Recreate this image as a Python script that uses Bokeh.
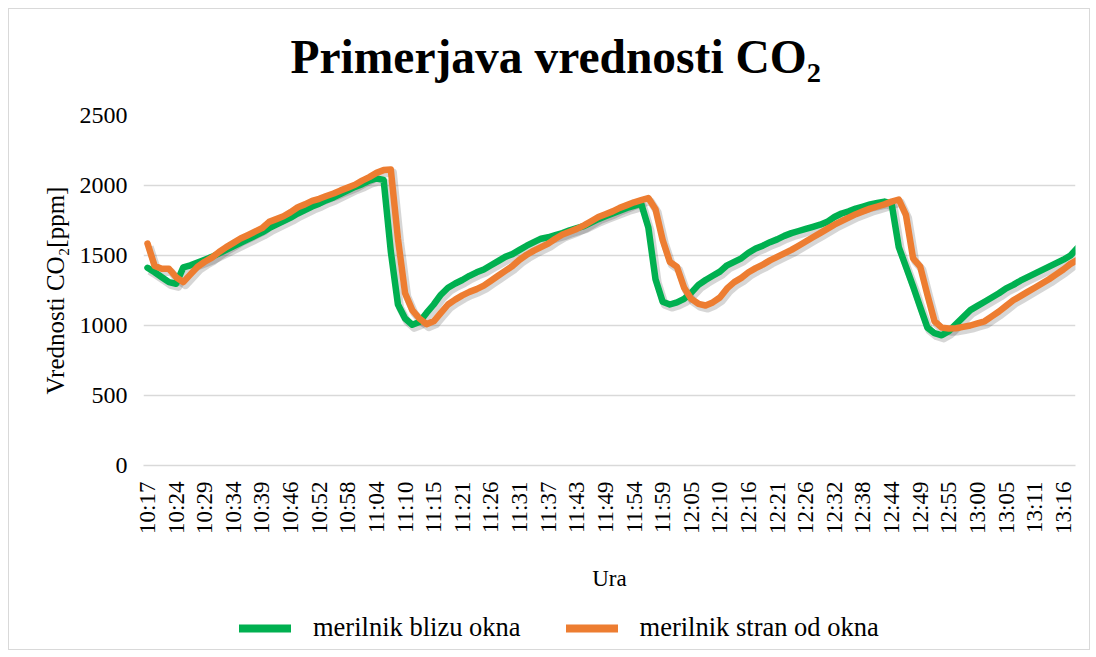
import math
from bokeh.plotting import figure
from bokeh.layouts import column
from bokeh.models import Range1d, FixedTicker, Legend, LegendItem, ColumnDataSource, Label
from bokeh.transform import dodge
from bokeh.embed import file_html
from bokeh.resources import INLINE

# x-axis category labels (one label every 4 samples)
ura_labels = ["10:17", "10:24", "10:29", "10:34", "10:39", "10:46", "10:52", "10:58",
              "11:04", "11:10", "11:15", "11:21", "11:26", "11:31", "11:37", "11:43",
              "11:49", "11:54", "11:59", "12:05", "12:10", "12:16", "12:21", "12:26",
              "12:32", "12:38", "12:44", "12:49", "12:55", "13:00", "13:05", "13:11", "13:16"]
samples_per_label = 4

# merilnik blizu okna (ppm)
blizu = [1412, 1380, 1345, 1310, 1298, 1415, 1430, 1450, 1470, 1490,
         1515, 1540, 1565, 1590, 1615, 1640, 1665, 1695, 1720, 1745,
         1770, 1800, 1825, 1850, 1870, 1895, 1915, 1940, 1965, 1990,
         2010, 2035, 2050, 2040, 1530, 1150, 1050, 1005, 1025, 1090,
         1150, 1220, 1270, 1300, 1325, 1355, 1380, 1400, 1430, 1460,
         1490, 1510, 1540, 1570, 1595, 1620, 1630, 1645, 1660, 1680,
         1695, 1710, 1735, 1760, 1780, 1800, 1820, 1840, 1855, 1870,
         1700, 1330, 1170, 1150, 1165, 1190, 1235, 1290, 1325, 1355,
         1385, 1430, 1455, 1480, 1520, 1550, 1570, 1595, 1615, 1640,
         1660, 1675, 1690, 1705, 1720, 1740, 1775, 1800, 1815, 1835,
         1850, 1865, 1875, 1885, 1870, 1560, 1420, 1280, 1130, 985,
         945, 930, 960, 1010, 1060, 1110, 1140, 1170, 1200, 1230,
         1265, 1290, 1320, 1345, 1370, 1395, 1420, 1445, 1470, 1500,
         1555]

# merilnik stran od okna (ppm)
stran = [1585, 1425, 1405, 1405, 1345, 1310, 1365, 1420, 1455, 1485,
         1525, 1560, 1590, 1621, 1645, 1670, 1695, 1740, 1760, 1780,
         1810, 1845, 1865, 1890, 1905, 1925, 1943, 1965, 1985, 2005,
         2035, 2060, 2090, 2110, 2115, 1620, 1230, 1110, 1050, 1010,
         1030, 1090, 1150, 1185, 1215, 1240, 1260, 1285, 1320, 1355,
         1390, 1425, 1470, 1505, 1535, 1560, 1585, 1620, 1650, 1670,
         1690, 1715, 1745, 1775, 1795, 1815, 1840, 1860, 1880, 1895,
         1910, 1830, 1610, 1455, 1418, 1270, 1190, 1155, 1143, 1165,
         1200, 1265, 1310, 1340, 1380, 1410, 1435, 1465, 1490, 1515,
         1540, 1570, 1600, 1630, 1660, 1690, 1720, 1745, 1770, 1795,
         1815, 1835, 1850, 1865, 1885, 1900, 1790, 1480, 1420, 1220,
         1030, 985, 978, 980, 990, 1000, 1015, 1030, 1065, 1100,
         1140, 1180, 1210, 1240, 1270, 1300, 1330, 1365, 1400, 1440,
         1470]

y_ticks = [0, 500, 1000, 1500, 2000, 2500]
title_text = "Primerjava vrednosti CO₂"

FONT = "Liberation Serif"
GREEN = "#00B050"
ORANGE = "#ED7D31"
GRID = "#d9d9d9"

src = ColumnDataSource(dict(x=list(range(len(blizu))), blizu=blizu, stran=stran))


def bare(fig):
    fig.outline_line_color = None
    fig.grid.visible = False
    fig.background_fill_color = "white"
    fig.border_fill_color = "white"


# ---- title strip ----
t = figure(width=1080, height=94, output_backend="svg", toolbar_location=None,
           x_range=Range1d(143, 1075), y_range=Range1d(103, 9),
           x_axis_location=None, y_axis_location=None,
           min_border_left=0, min_border_right=0, min_border_top=0, min_border_bottom=0)
bare(t)
t.add_layout(Label(x=290, y=56, text=title_text, text_font=FONT, text_font_size="47.5px",
                   text_font_style="bold", text_color="black", text_align="left",
                   text_baseline="alphabetic"))

# ---- main chart ----
p = figure(width=1080, height=498, output_backend="svg", toolbar_location=None,
           x_range=Range1d(-0.56, 129.7), y_range=Range1d(0, 2500),
           min_border_left=134, min_border_right=14, min_border_top=12,
           min_border_bottom=136)
p.outline_line_color = None
p.background_fill_color = "white"
p.border_fill_color = "white"

# shadows
for col in ("blizu", "stran"):
    p.line(x=dodge("x", 0.3, range=p.x_range), y=dodge(col, -22, range=p.y_range), source=src,
           line_color="black", line_alpha=0.16, line_width=8, line_join="round")

g = p.line("x", "blizu", source=src, line_color=GREEN, line_width=6.5,
           line_join="round", line_cap="round")
o = p.line("x", "stran", source=src, line_color=ORANGE, line_width=6.5,
           line_join="round", line_cap="round")

p.xgrid.visible = False
p.ygrid.grid_line_color = GRID
p.ygrid.grid_line_width = 1.5
p.yaxis.ticker = FixedTicker(ticks=y_ticks)

p.yaxis.axis_line_color = None
p.yaxis.major_tick_line_color = None
p.yaxis.minor_tick_line_color = None
p.yaxis.major_label_text_font = FONT
p.yaxis.major_label_text_font_size = "24px"
p.yaxis.major_label_text_color = "black"
p.yaxis.major_label_standoff = 10
p.yaxis.axis_label = "Vrednosti CO₂[ppm]"
p.yaxis.axis_label_text_font = FONT
p.yaxis.axis_label_text_font_size = "25px"
p.yaxis.axis_label_text_font_style = "normal"
p.yaxis.axis_label_text_color = "black"
p.yaxis.axis_label_standoff = 8

tick_pos = [i * samples_per_label for i in range(len(ura_labels))]
p.xaxis.ticker = FixedTicker(ticks=tick_pos)
p.xaxis.major_label_overrides = {tp: lab for tp, lab in zip(tick_pos, ura_labels)}
p.xaxis.major_label_orientation = math.pi / 2
p.xaxis.axis_line_color = GRID
p.xaxis.axis_line_width = 1.5
p.xaxis.major_tick_line_color = None
p.xaxis.minor_tick_line_color = None
p.xaxis.major_label_text_font = FONT
p.xaxis.major_label_text_font_size = "23px"
p.xaxis.major_label_text_color = "black"
p.xaxis.major_label_standoff = 10
p.xaxis.axis_label = "Ura"
p.xaxis.axis_label_text_font = FONT
p.xaxis.axis_label_text_font_size = "23px"
p.xaxis.axis_label_text_font_style = "normal"
p.xaxis.axis_label_text_color = "black"
p.xaxis.axis_label_standoff = 29

# ---- legend strip ----
q = figure(width=1080, height=48, output_backend="svg", toolbar_location=None,
           x_range=Range1d(0, 1), y_range=Range1d(0, 1),
           x_axis_location=None, y_axis_location=None,
           min_border_left=0, min_border_right=0, min_border_top=0, min_border_bottom=0)
bare(q)
lg = q.line("x", "blizu", source=src, line_color=GREEN, line_width=8, line_cap="round")
lo = q.line("x", "stran", source=src, line_color=ORANGE, line_width=8, line_cap="round")

legend = Legend(items=[LegendItem(label="merilnik blizu okna", renderers=[lg]),
                       LegendItem(label="merilnik stran od okna", renderers=[lo])],
                location=(96, 6), orientation="horizontal",
                glyph_width=52, glyph_height=20, label_standoff=22, spacing=45,
                padding=5, margin=0, border_line_color=None, background_fill_alpha=0,
                label_text_font=FONT, label_text_font_size="26.5px",
                label_text_color="black")
q.add_layout(legend)

layout = column(t, p, q, spacing=0)
layout.styles = {"border": "1px solid #d9d9d9", "margin-left": "8px", "margin-top": "8px"}

open("out.html", "w").write(file_html(layout, INLINE))
